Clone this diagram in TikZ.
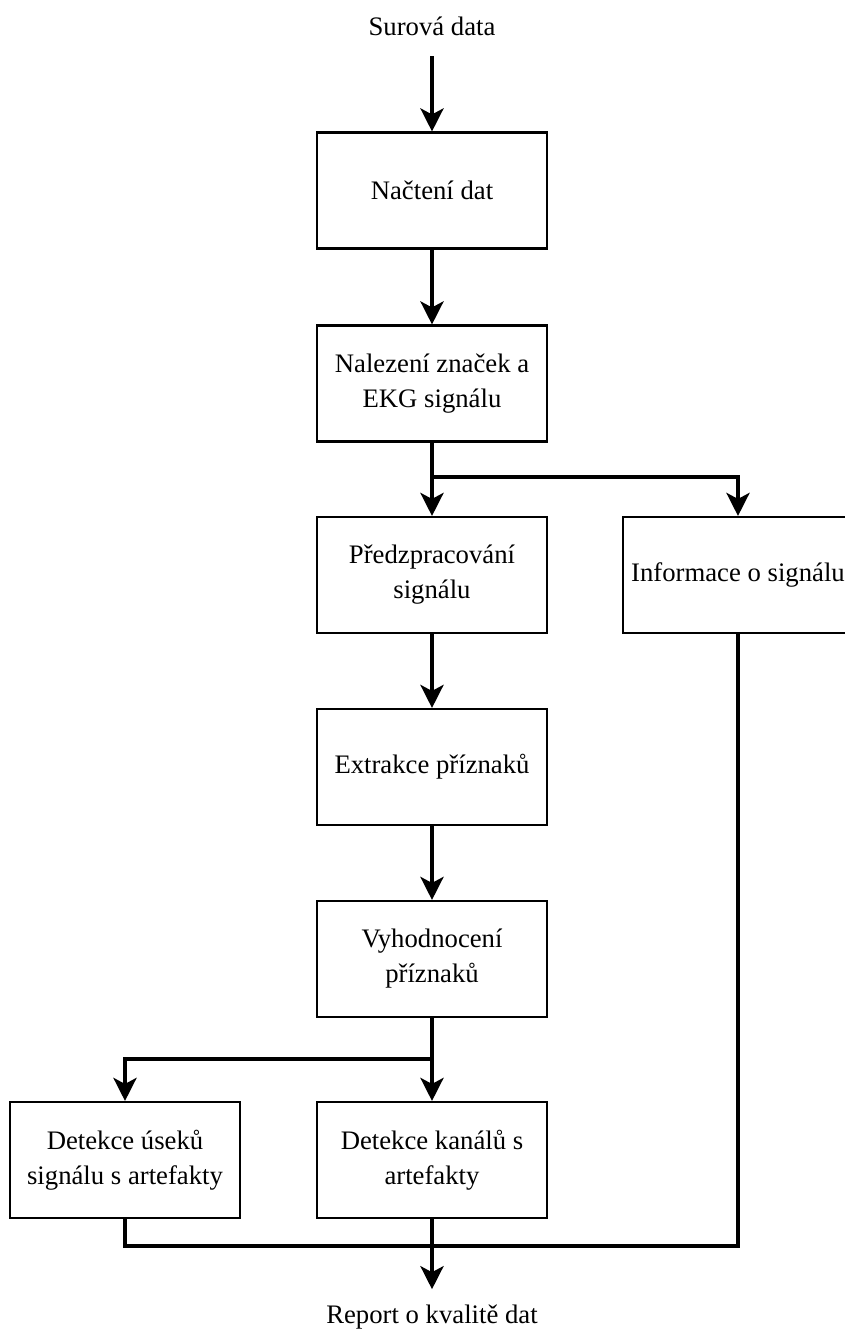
\documentclass[tikz,border=0pt]{standalone}
\usepackage{fontspec}
\setmainfont{Liberation Serif}
\usetikzlibrary{arrows.meta}

\begin{document}
\begin{tikzpicture}[x=0.02cm, y=-0.02cm,
	box/.style={draw, line width=1.2pt, minimum width=4.6cm, minimum height=2.32cm,
		align=center, inner sep=2pt, font=\fontsize{15.2}{19.9}\selectfont},
	lbl/.style={anchor=base, font=\fontsize{15.2}{19.9}\selectfont},
	flow/.style={line width=2.5pt, -{Stealth[length=0.46cm, width=0.46cm, inset=0.12cm]}},
	link/.style={line width=2.5pt}]
	\useasboundingbox (0,0) rectangle (845,1330);
	\clip (0,0) rectangle (845,1330);
	% texts and boxes
	\node[lbl] (raw) at (432,35) {Surová data};
	\node[box] (load) at (432,190.5) {Načtení dat};
	\node[box] (find) at (432,383.5) {Nalezení značek a\\EKG signálu};
	\node[box] (prep) at (432,575) {Předzpracování\\signálu};
	\node[box] (info) at (738,575) {Informace o signálu};
	\node[box] (feat) at (432,767) {Extrakce příznaků};
	\node[box] (eval) at (432,959) {Vyhodnocení\\příznaků};
	\node[box] (seg) at (125,1160) {Detekce úseků\\signálu s artefakty};
	\node[box] (chan) at (432,1160) {Detekce kanálů s\\artefakty};
	\node[lbl] (report) at (432,1323) {Report o kvalitě dat};
	% junctions
	\coordinate (split1) at (432,477);
	\coordinate (split2) at (432,1059);
	\coordinate (merge) at (432,1246);
	% connectors
	\draw[flow, shorten <=0.3cm] (raw) -- (load);
	\draw[flow] (load) -- (find);
	\draw[flow] (find) -- (prep);
	\draw[flow] (split1) -| (info);
	\draw[flow] (prep) -- (feat);
	\draw[flow] (feat) -- (eval);
	\draw[flow] (eval) -- (chan);
	\draw[flow] (split2) -| (seg);
	\draw[link] (seg) |- (merge);
	\draw[link] (info) |- (merge);
	\draw[flow, shorten >=0.18cm] (chan) -- (report);
\end{tikzpicture}
\end{document}
